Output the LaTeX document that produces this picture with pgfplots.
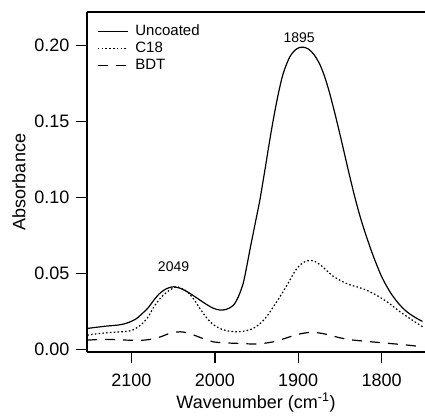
\documentclass[border=0pt]{standalone}
\usepackage{fontspec}
\setmainfont{Liberation Sans}
\usepackage{pgfplots}
\pgfplotsset{compat=1.18}

\begin{document}
\begin{tikzpicture}
\begin{axis}[
    scale only axis,
    width=338pt, height=340pt,
    x dir=reverse,
    xmin=1748, xmax=2153.3,
    ymin=-0.0016, ymax=0.2221,
    axis x line*=bottom, axis y line*=left,
    axis line style={line width=1.4pt},
    tick align=outside,
    major tick length=11pt,
    tick style={line width=1.4pt, black},
    xtick={1800,1900,2000,2100},
    ytick={0,0.05,0.10,0.15,0.20},
    xticklabel shift=7pt,
    yticklabel shift=3pt,
    /pgf/number format/assume math mode=true,
    yticklabel style={/pgf/number format/.cd, fixed, fixed zerofill, precision=2},
    xticklabel style={/pgf/number format/.cd, set thousands separator={}},
    ticklabel style={font=\fontsize{18}{20}\selectfont},
    label style={font=\fontsize{18}{20}\selectfont},
    xlabel={Wavenumber (cm\textsuperscript{-1})},
    ylabel={Absorbance},
    ylabel style={yshift=2pt},
    clip=false,
    legend cell align=left,
    legend style={at={(0.0296,0.968)}, anchor=north west, draw=none, fill=none,
        inner sep=0pt, font=\fontsize{15}{17}\selectfont,
        nodes={inner ysep=1.5pt, inner xsep=1pt, text height=10.5pt, text depth=3.5pt}},
    legend image code/.code={\draw[#1] (0pt,0pt) -- (30pt,0pt); \path (36pt,0pt);},
]
\addplot[black, line width=1.2pt, smooth] coordinates {
(2153,0.0139) (2140,0.0148) (2129,0.0155) (2115,0.0162) (2105,0.0175)
(2095,0.0200) (2089,0.0227) (2080,0.0275) (2073,0.0326) (2067,0.0365)
(2061,0.0391) (2055,0.0407) (2049,0.0413) (2041,0.0402) (2033,0.0380)
(2025,0.0352) (2018,0.0326) (2010,0.0297) (2002,0.0272) (1994,0.0260)
(1986,0.0265) (1978,0.0290) (1972,0.0345) (1966,0.0436) (1962,0.0540)
(1958,0.0655) (1954,0.0765) (1950,0.0874) (1946,0.0984) (1940,0.1180)
(1935,0.1350) (1930,0.1510) (1924,0.1680) (1918,0.1817) (1910,0.1927)
(1902,0.1978) (1895,0.1990) (1888,0.1978) (1881,0.1940) (1874,0.1875)
(1868,0.1790) (1862,0.1680) (1855,0.1530) (1848,0.1370) (1840,0.1180)
(1832,0.1000) (1825,0.0860) (1818,0.0740) (1810,0.0615) (1800,0.0480)
(1790,0.0380) (1780,0.0305) (1770,0.0250) (1760,0.0212) (1751,0.0185)
};
\addlegendentry{Uncoated}
\addplot[black, line width=1.2pt, smooth, dash pattern=on 1.6pt off 2.2pt] coordinates {
(2153,0.0095) (2140,0.0105) (2125,0.0112) (2110,0.0118) (2100,0.0125)
(2089,0.0161) (2080,0.0215) (2073,0.0282) (2065,0.0340) (2057,0.0380)
(2050,0.0405) (2045,0.0413) (2039,0.0400) (2033,0.0380) (2025,0.0330)
(2018,0.0271) (2010,0.0210) (2002,0.0165) (1994,0.0139) (1984,0.0122)
(1974,0.0117) (1964,0.0122) (1954,0.0139) (1946,0.0170) (1938,0.0216)
(1930,0.0280) (1922,0.0347) (1916,0.0400) (1910,0.0457) (1904,0.0515)
(1898,0.0556) (1892,0.0578) (1886,0.0586) (1880,0.0580) (1873,0.0555)
(1865,0.0515) (1858,0.0482) (1848,0.0450) (1838,0.0426) (1828,0.0410)
(1818,0.0390) (1809,0.0366) (1800,0.0337) (1790,0.0300) (1778,0.0249)
(1765,0.0200) (1751,0.0150)
};
\addlegendentry{C18}
\addplot[black, line width=1.2pt, smooth, dash pattern=on 10pt off 8pt] coordinates {
(2153,0.0062) (2140,0.0066) (2129,0.0067) (2115,0.0064) (2105,0.0062)
(2085,0.0062) (2075,0.0070) (2065,0.0084) (2055,0.0105) (2046,0.0115)
(2041,0.0117) (2033,0.0110) (2025,0.0095) (2013,0.0070) (2002,0.0051)
(1988,0.0044) (1974,0.0041) (1962,0.0038) (1950,0.0036) (1940,0.0042)
(1930,0.0051) (1920,0.0066) (1910,0.0084) (1898,0.0103) (1886,0.0113)
(1876,0.0110) (1866,0.0100) (1852,0.0080) (1838,0.0065) (1820,0.0055)
(1800,0.0045) (1780,0.0035) (1765,0.0027) (1751,0.0018)
};
\addlegendentry{BDT}
\draw[line width=1.4pt] (rel axis cs:0,1) -- (rel axis cs:1,1);
\node[font=\fontsize{14}{16}\selectfont] at (axis cs:1899,0.205) {1895};
\node[font=\fontsize{14}{16}\selectfont] at (axis cs:2049.5,0.0545) {2049};
\end{axis}
\pgfresetboundingbox
\path ([xshift=-87pt,yshift=-64pt]current axis.south west) rectangle ([yshift=12pt]current axis.north east);
\end{tikzpicture}
\end{document}
